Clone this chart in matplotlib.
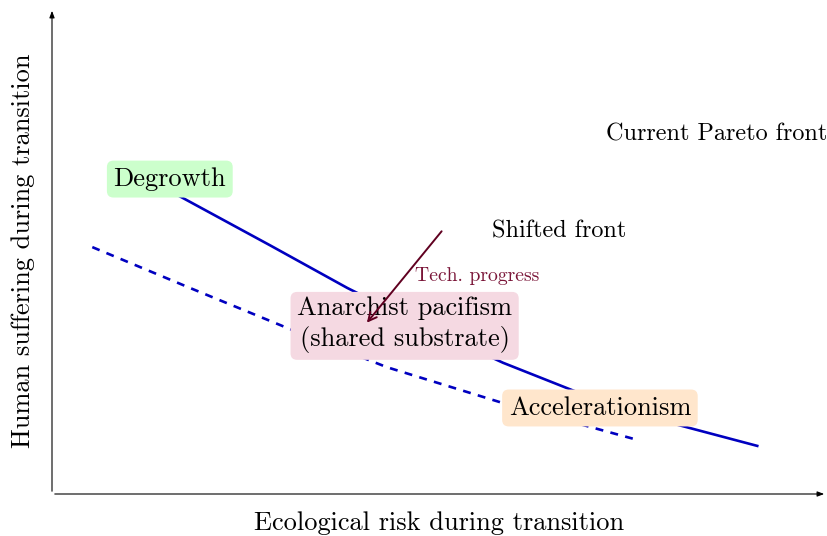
import numpy as np
import matplotlib.pyplot as plt

plt.rcParams['font.family'] = ['cmr10', 'DejaVu Serif']
plt.rcParams['axes.formatter.use_mathtext'] = True

# current Pareto front (solid) and shifted front (dashed)
front_x = [1.62, 2.81, 3.81, 4.81, 5.82, 6.77, 7.94, 9.10]
front_y = [6.15, 5.12, 4.24, 3.44, 2.70, 2.10, 1.48, 0.99]
shifted_x = [0.52, 1.78, 3.03, 4.32, 5.78, 7.56]
shifted_y = [5.08, 4.24, 3.42, 2.61, 1.89, 1.11]

labels = ['Degrowth', 'Anarchist pacifism\n(shared substrate)', 'Accelerationism']
label_x = [1.52, 4.55, 7.07]
label_y = [6.48, 3.48, 1.77]
label_colors = ['#ccffcc', '#f5d9e2', '#ffe6cc']

fig = plt.figure(figsize=(8.27, 5.36), dpi=100)
ax = fig.add_axes([52/827, 42/536, 775/827, 486/536])
ax.set_xlim(0, 10)
ax.set_ylim(0, 10)
for s in ax.spines.values():
    s.set_visible(False)
ax.set_xticks([])
ax.set_yticks([])

# axis arrows
ax.annotate('', xy=(1, 0), xytext=(0, 0), xycoords='axes fraction',
            arrowprops=dict(arrowstyle='-|>,head_width=0.15,head_length=0.4', color='black', lw=0.8))
ax.annotate('', xy=(0, 1), xytext=(0, 0), xycoords='axes fraction',
            arrowprops=dict(arrowstyle='-|>,head_width=0.15,head_length=0.4', color='black', lw=0.8))

ax.plot(front_x, front_y, color='#0000c0', lw=1.9, solid_joinstyle='round')
ax.plot(shifted_x, shifted_y, color='#0000c0', lw=1.9, linestyle=(0, (3, 2.8)))

for t, x, y, c in zip(labels, label_x, label_y, label_colors):
    ax.text(x, y, t, ha='center', va='center', fontsize=19, linespacing=1.3,
            bbox=dict(boxstyle='round,pad=0.25,rounding_size=0.25', fc=c, ec='none'), zorder=5)

ax.text(8.58, 7.39, 'Current Pareto front', ha='center', va='center', fontsize=17.4)
ax.text(6.55, 5.41, 'Shifted front', ha='center', va='center', fontsize=17.4)

# technology progress arrow
ax.annotate('', xy=(4.04, 3.48), xytext=(5.05, 5.45),
            arrowprops=dict(arrowstyle='->,head_width=0.3,head_length=0.6', color='#600020', lw=1.4), zorder=6)
ax.text(5.48, 4.49, 'Tech. progress', ha='center', va='center', fontsize=14.2, color='#7a1538')

ax.set_xlabel('Ecological risk during transition', fontsize=19, labelpad=12.5)
ax.set_ylabel('Human suffering during transition', fontsize=19, labelpad=12)

fig.savefig('out.png', dpi=100)
